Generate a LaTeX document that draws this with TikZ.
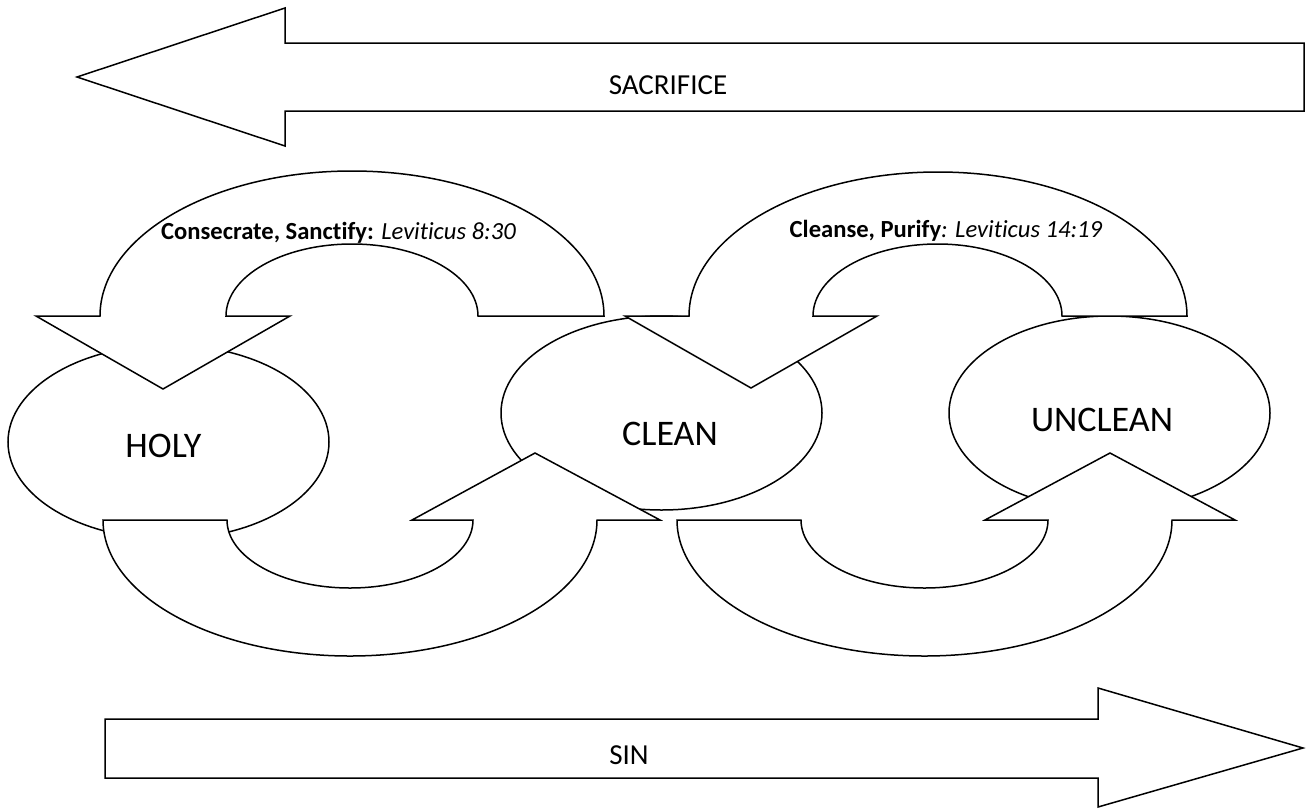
\documentclass[tikz,border=0pt]{standalone}
\usepackage{fontspec}
\setmainfont{Carlito}[Ligatures=NoCommon]
\usetikzlibrary{shapes.geometric}
\begin{document}
\begin{tikzpicture}[x=1pt, y=-1pt, line width=1.5pt]
      \tikzstyle{blob}=[draw, fill=white, shape=ellipse, minimum width=321pt, minimum height=194pt, inner sep=0pt]
      \tikzstyle{band}=[draw, fill=white]
      \tikzstyle{word}=[inner sep=0pt, font=\fontsize{36}{40}\selectfont]
      \tikzstyle{verse}=[inner sep=0pt, anchor=base, font=\fontsize{24.6}{28}\selectfont]
      \tikzstyle{big}=[inner sep=0pt, font=\fontsize{29}{32}\selectfont]

      \useasboundingbox (0,0) rectangle (1306,809);

      % draw states

      \foreach \x/\y [count=\i] in {168.5/442, 661.5/413, 1109.5/413}
      \node [blob] (state-\i) at (\x,\y) {};

      \foreach \l/\x/\y [count=\i] in {HOLY/163.5/446, CLEAN/670/434, UNCLEAN/1102/420}
      \node [word] (name-\i) at (\x,\y) {\l};

      % draw turns

      \draw [band] (604,316) arc [start angle=0, end angle=-180, x radius=252, y radius=145]
        -- (36,316) -- (163,389) -- (290,316) -- (226,316)
        arc [start angle=-180, end angle=0, x radius=126, y radius=72] -- cycle;

      \draw [band] (1187,316) arc [start angle=0, end angle=-180, x radius=249, y radius=144]
        -- (625,316) -- (751,388) -- (877,316) -- (813,316)
        arc [start angle=-180, end angle=0, x radius=124.5, y radius=72] -- cycle;

      \draw [band] (103,520) arc [start angle=180, end angle=0, x radius=247, y radius=136]
        -- (660,520) -- (535,453) -- (412,520) -- (473,520)
        arc [start angle=0, end angle=180, x radius=123, y radius=68] -- cycle;

      \draw [band] (677,520) arc [start angle=180, end angle=0, x radius=247.5, y radius=136]
        -- (1235,520) -- (1110,453) -- (985,520) -- (1048,520)
        arc [start angle=0, end angle=180, x radius=123.5, y radius=68] -- cycle;

      % draw text

      \node [verse] (turn-1) at (338.5,239) {\textbf{Consecrate, Sanctify:} \textit{Leviticus 8:30}};
      \node [verse] (turn-2) at (946,237) {\textbf{Cleanse, Purify}\textit{: Leviticus 14:19}};

      % draw lines

      \draw [band] (1304,43) -- (285,43) -- (285,8) -- (77,77) -- (285,146) -- (285,111) -- (1304,111) -- cycle;
      \draw [band] (105,719) -- (1098,719) -- (1098,688) -- (1303,748) -- (1098,807) -- (1098,778) -- (105,778) -- cycle;

      \node [big] (sacrifice) at (668,85) {SACRIFICE};
      \node [big] (sin) at (629,755) {SIN};

    \end{tikzpicture}
\end{document}
